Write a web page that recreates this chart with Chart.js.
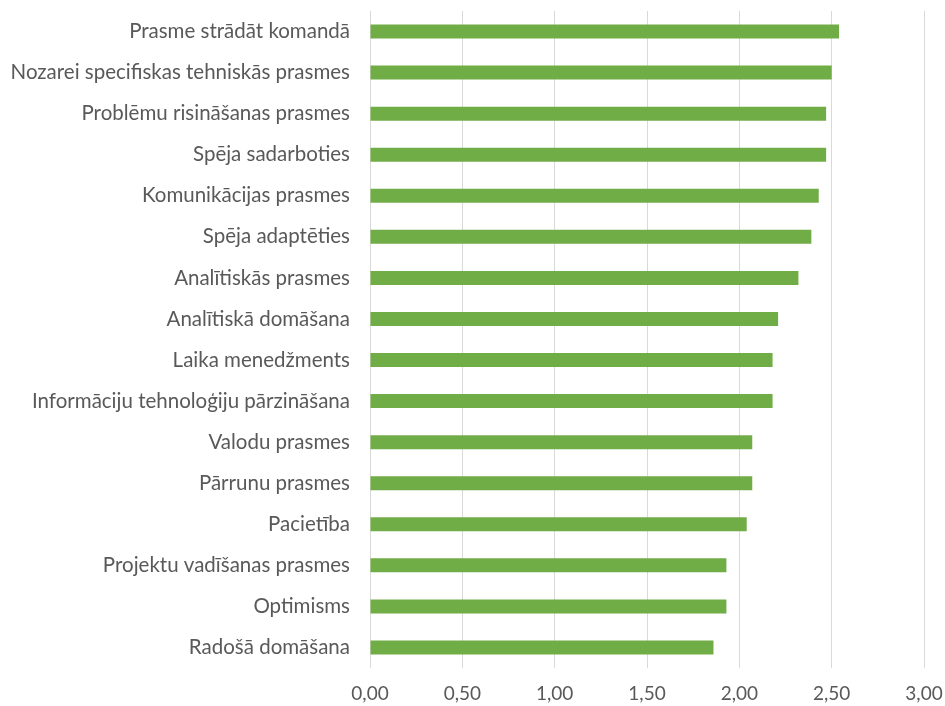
<!DOCTYPE html>
<html>
<head>
<meta charset="utf-8">
<script src="https://cdn.jsdelivr.net/npm/chart.js@4/dist/chart.umd.min.js"></script>
<style>
  body { margin: 0; background: #fff; }
</style>
</head>
<body>
<canvas id="barChart" width="945" height="706"></canvas>
<script>
const skills = [
    'Prasme strādāt komandā',
    'Nozarei specifiskas tehniskās prasmes',
    'Problēmu risināšanas prasmes',
    'Spēja sadarboties',
    'Komunikācijas prasmes',
    'Spēja adaptēties',
    'Analītiskās prasmes',
    'Analītiskā domāšana',
    'Laika menedžments',
    'Informāciju tehnoloģiju pārzināšana',
    'Valodu prasmes',
    'Pārrunu prasmes',
    'Pacietība',
    'Projektu vadīšanas prasmes',
    'Optimisms',
    'Radošā domāšana'
];
const scores = [2.54, 2.50, 2.47, 2.47, 2.43, 2.39, 2.32, 2.21, 2.18, 2.18, 2.07, 2.07, 2.04, 1.93, 1.93, 1.86];
const xTicks = [0, 0.5, 1, 1.5, 2, 2.5, 3];

const CHART = document.getElementById("barChart");
let barChart = new Chart(CHART, {

    type: 'bar',
    data: {
        labels: skills,
        datasets: [{
            data: scores,
            backgroundColor: "#70AD47",
            barPercentage: 0.34,
            categoryPercentage: 1
    }]
    },
    options: {
        indexAxis: 'y',
        responsive: false,
        animation: false,
        layout: { padding: { top: 11, right: 21, left: 0, bottom: 0 } },
        plugins: {
            legend: { display: false },
            tooltip: { enabled: false }
        },
        scales: {
            x: {
                min: 0,
                max: 3,
                afterBuildTicks: (scale) => { scale.ticks = xTicks.map(v => ({ value: v })); },
                afterFit: (scale) => { scale.height = 38; scale.paddingRight = 0; scale.paddingLeft = 0; },
                grid: { color: '#d9d9d9', lineWidth: 1, drawTicks: false },
                border: { display: false },
                ticks: {
                    color: '#595959',
                    padding: 14,
                    font: { family: 'Lato', size: 19 },
                    callback: (v) => Number(v).toFixed(2).replace('.', ',')
                }
            },
            y: {
                afterFit: (scale) => { scale.width = 370; scale.paddingTop = 0; scale.paddingBottom = 0; },
                grid: { display: false },
                border: { display: false },
                ticks: {
                    color: '#595959',
                    padding: 12,
                    font: { family: 'Lato', size: 20.5 }
                }
            }
        }
    }
})
</script>
</body>
</html>
